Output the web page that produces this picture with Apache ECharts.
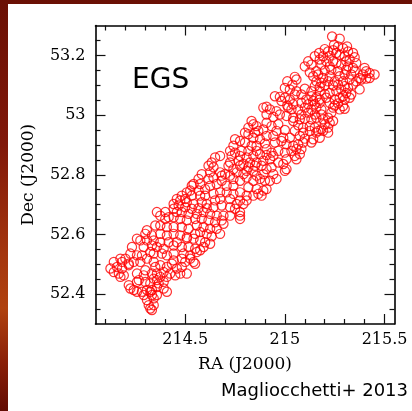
<!DOCTYPE html>
<html>
<head>
<meta charset="utf-8">
<script src="https://cdn.jsdelivr.net/npm/echarts@6/dist/echarts.min.js"></script>
<style>
html,body{margin:0;padding:0;}
#chart{width:412px;height:411px;}
</style>
</head>
<body>
<div id="chart"></div>
<script>
// ---- Tick values ----
const xMajorTicks = [214.5, 215, 215.5];
const xMinorTicks = [214.1, 214.2, 214.3, 214.4, 214.6, 214.7, 214.8, 214.9, 215.1, 215.2, 215.3, 215.4];
const yMajorTicks = [52.4, 52.6, 52.8, 53, 53.2];
const yMinorTicks = [52.35, 52.45, 52.5, 52.55, 52.65, 52.7, 52.75, 52.85, 52.9, 52.95, 53.05, 53.1, 53.15, 53.25];

// ---- Source positions [RA, Dec] ----
const band1 = [
[215.237,53.263],[215.275,53.256],[215.200,53.221],[215.247,53.236],[215.267,53.230],[215.292,53.224],[215.312,53.230],
[215.172,53.208],[215.217,53.213],[215.242,53.217],[215.258,53.208],[215.317,53.213],[215.342,53.208],
[215.150,53.197],[215.192,53.197],[215.225,53.199],[215.275,53.202],[215.300,53.197],[215.350,53.194],
[215.117,53.180],[215.175,53.186],[215.208,53.180],[215.242,53.180],[215.258,53.174],[215.308,53.180],[215.325,53.186],[215.358,53.174],
[215.100,53.163],[215.133,53.169],[215.183,53.169],[215.225,53.163],[215.283,53.169],[215.317,53.163],[215.342,53.158]
];
const band2 = [
[215.125,53.143],[215.158,53.147],[215.200,53.149],[215.233,53.152],[215.267,53.147],[215.308,53.152],[215.350,53.149],
[215.400,53.158],[215.408,53.147],[215.425,53.141],[215.450,53.136],[215.392,53.136],
[215.142,53.130],[215.167,53.136],[215.192,53.124],[215.225,53.130],[215.275,53.130],[215.300,53.136],[215.333,53.136],
[215.375,53.124],[215.408,53.122],[215.425,53.124],
[215.050,53.128],[215.058,53.119],[215.012,53.113],[215.038,53.102],[215.158,53.113],[215.183,53.108],[215.217,53.113],
[215.250,53.113],[215.292,53.113],[215.325,53.119],[215.358,53.113],[215.383,53.119],
[215.150,53.097],[215.175,53.094],[215.200,53.099],[215.242,53.099],[215.267,53.102],[215.300,53.097],[215.342,53.102],
[215.375,53.086],[215.317,53.091]
];
const band3 = [
[215.000,53.091],[215.025,53.086],[215.058,53.080],[215.100,53.088],[215.050,53.069],[215.083,53.069],
[215.133,53.080],[215.175,53.080],[215.200,53.071],[215.225,53.074],[215.258,53.080],[215.283,53.086],[215.308,53.074],
[215.333,53.069],[215.292,53.063],[215.325,53.058],
[214.950,53.063],[214.975,53.061],[215.000,53.058],[215.025,53.052],[214.983,53.047],[215.133,53.063],[215.158,53.060],
[215.108,53.052],[215.142,53.047],[215.175,53.052],[215.208,53.058],[215.250,53.052],[215.275,53.058],[215.300,53.052],
[215.083,53.041],[215.117,53.036],[215.150,53.036],[215.175,53.041],[215.225,53.041],[215.267,53.039],[215.292,53.030],
[215.250,53.032],[215.012,53.032],[215.042,53.036],[214.908,53.028],[214.892,53.025]
];
const band4 = [
[214.925,53.019],[214.958,53.013],[214.908,53.002],[214.942,52.994],[214.975,53.002],[215.017,53.025],[215.033,53.019],
[215.067,53.019],[215.100,53.025],[215.133,53.019],[215.158,53.025],[215.183,53.019],[215.242,53.025],[215.275,53.019],
[215.300,53.021],[215.008,52.997],[215.042,52.991],[215.083,53.002],[215.117,53.008],[215.150,53.002],[215.183,53.002],
[215.233,53.008],[215.217,52.991],[214.833,52.980],[214.842,52.969],[214.858,52.963],[214.908,52.974],[214.933,52.963],
[214.967,52.969],[215.042,52.980],[215.075,52.986],[215.100,52.988],[215.133,52.986],[215.158,52.991],[215.192,52.986],
[215.200,52.969],[215.225,52.974],[215.242,52.980],[214.817,52.958],[215.067,52.966],[215.092,52.958],[215.125,52.963],
[215.150,52.958],[215.183,52.952],[215.217,52.958],[215.167,52.947]
];
const band5 = [
[214.800,52.941],[214.817,52.936],[214.850,52.941],[214.867,52.947],[214.892,52.952],[214.958,52.947],[215.000,52.950],
[215.050,52.947],[215.092,52.941],[215.125,52.947],[215.158,52.941],[215.192,52.947],[215.217,52.941],
[214.842,52.924],[214.875,52.919],[214.908,52.930],[214.942,52.930],[214.992,52.924],[215.025,52.924],[215.075,52.930],
[215.100,52.921],[215.142,52.919],[215.175,52.924],
[214.750,52.919],[214.775,52.913],[214.800,52.908],[214.833,52.897],[214.858,52.897],[214.900,52.905],[214.950,52.908],
[214.983,52.913],[215.008,52.902],[215.042,52.897],[215.067,52.902],[215.092,52.908],[215.133,52.908]
];
const band6 = [
[214.742,52.897],[214.725,52.880],[214.750,52.874],[214.783,52.880],[214.817,52.880],[214.858,52.880],[214.908,52.886],
[214.933,52.874],[214.967,52.880],[215.000,52.874],[215.033,52.880],[215.058,52.886],[215.083,52.886],
[214.675,52.863],[214.650,52.858],[214.733,52.863],[214.775,52.863],[214.808,52.858],[214.842,52.863],[214.875,52.869],
[214.908,52.866],[214.942,52.863],[215.008,52.852],[215.050,52.863],[215.075,52.869],[215.058,52.852],
[214.633,52.841],[214.617,52.830],[214.725,52.841],[214.767,52.847],[214.792,52.836],[214.825,52.841],[214.858,52.841],
[214.892,52.847],[214.925,52.852],[214.967,52.841],[214.992,52.836]
];
const band7 = [
[214.642,52.825],[214.625,52.808],[214.717,52.830],[214.742,52.819],[214.775,52.830],[214.817,52.825],[214.850,52.830],
[214.883,52.830],[214.808,52.813],[214.842,52.813],[214.908,52.819],[214.933,52.825],[215.008,52.819],[215.000,52.813],
[214.675,52.808],[214.700,52.802],[214.683,52.797],[214.725,52.797],[214.758,52.808],[214.792,52.802],[214.858,52.797],
[214.892,52.802],[214.942,52.802],[214.958,52.786],[214.900,52.780],[214.925,52.780],
[214.583,52.802],[214.567,52.786],[214.617,52.786],[214.575,52.769],[214.542,52.769],[214.533,52.763],[214.642,52.791],
[214.683,52.780],[214.742,52.786],[214.775,52.780],[214.808,52.791],[214.842,52.780],[214.875,52.786]
];
const band8 = [
[214.525,52.747],[214.508,52.741],[214.567,52.747],[214.600,52.752],[214.625,52.763],[214.658,52.769],[214.708,52.763],
[214.742,52.763],[214.817,52.758],[214.858,52.752],[214.892,52.747],[214.908,52.752],[214.867,52.736],[214.883,52.730],
[214.483,52.730],[214.500,52.719],[214.475,52.714],[214.458,52.719],[214.442,52.702],[214.533,52.730],[214.575,52.730],
[214.600,52.730],[214.642,52.736],[214.675,52.741],[214.708,52.741],[214.742,52.736],[214.775,52.741],[214.808,52.730],
[214.842,52.730],[214.442,52.686],[214.467,52.697],[214.508,52.708],[214.542,52.702],[214.583,52.708],[214.608,52.702],
[214.650,52.714],[214.675,52.719],[214.725,52.719],[214.775,52.714],[214.808,52.714],[214.758,52.702],[214.792,52.702]
];
const band9 = [
[214.500,52.691],[214.533,52.686],[214.567,52.688],[214.608,52.688],[214.642,52.691],[214.683,52.697],[214.725,52.691],
[214.750,52.686],[214.775,52.675],[214.775,52.663],[214.775,52.652],
[214.458,52.675],[214.483,52.675],[214.517,52.669],[214.558,52.669],[214.592,52.675],[214.625,52.669],[214.658,52.663],
[214.692,52.663],[214.725,52.663],[214.683,52.647],[214.692,52.636],
[214.358,52.675],[214.400,52.675],[214.375,52.663],[214.400,52.652],[214.417,52.658],[214.442,52.658],[214.475,52.652],
[214.508,52.647],[214.550,52.652],[214.583,52.652],[214.617,52.647],[214.650,52.641]
];
const band10 = [
[214.350,52.630],[214.375,52.630],[214.408,52.625],[214.442,52.625],[214.483,52.625],[214.517,52.619],[214.558,52.630],
[214.592,52.625],[214.625,52.619],[214.658,52.619],
[214.308,52.614],[214.300,52.602],[214.333,52.597],[214.375,52.602],[214.408,52.597],[214.442,52.602],[214.475,52.597],
[214.508,52.591],[214.550,52.602],[214.575,52.608],[214.608,52.602],[214.633,52.594],[214.675,52.602],
[214.258,52.586],[214.275,52.580],[214.308,52.580],[214.342,52.580],[214.375,52.574],[214.417,52.574],[214.458,52.574],
[214.508,52.586],[214.542,52.586],[214.575,52.580],[214.600,52.574],[214.625,52.569]
];
const band11 = [
[214.233,52.558],[214.292,52.558],[214.333,52.563],[214.358,52.558],[214.392,52.552],[214.442,52.563],[214.483,52.558],
[214.517,52.558],[214.550,52.552],[214.575,52.547],[214.592,52.558],
[214.258,52.530],[214.225,52.536],[214.283,52.530],[214.325,52.541],[214.342,52.536],[214.383,52.536],[214.408,52.530],
[214.442,52.536],[214.492,52.536],[214.525,52.530],[214.558,52.541],
[214.175,52.519],[214.200,52.519],[214.142,52.508],[214.183,52.508],[214.217,52.502],[214.242,52.508],[214.275,52.508],
[214.308,52.519],[214.342,52.508],[214.442,52.513],[214.483,52.519],[214.500,52.508],[214.525,52.519],[214.542,52.508],
[214.550,52.502]
];
const band12 = [
[214.125,52.486],[214.158,52.491],[214.183,52.486],[214.217,52.497],[214.142,52.474],[214.167,52.469],[214.192,52.463],
[214.175,52.458],[214.350,52.491],[214.375,52.497],[214.408,52.491],[214.433,52.502],[214.458,52.486],[214.483,52.491],
[214.508,52.469],[214.475,52.469],[214.258,52.469],[214.300,52.480],[214.292,52.463],[214.333,52.469],[214.358,52.469],
[214.392,52.474],[214.425,52.469],[214.450,52.463],[214.375,52.458],[214.408,52.458],[214.342,52.452],[214.358,52.447],
[214.325,52.436],[214.367,52.436],[214.392,52.441],[214.258,52.441],[214.300,52.441],[214.267,52.447]
];
const band13 = [
[214.217,52.430],[214.225,52.419],[214.242,52.414],[214.258,52.408],[214.283,52.408],[214.308,52.414],[214.333,52.414],
[214.358,52.424],[214.408,52.408],[214.392,52.419],[214.292,52.397],[214.325,52.408],[214.333,52.397],[214.358,52.397],
[214.308,52.380],[214.342,52.386],[214.317,52.363],[214.342,52.363],[214.325,52.352],[214.333,52.347]
];
const sources = [].concat(band1, band2, band3, band4, band5, band6, band7, band8, band9, band10, band11, band12, band13);

const labelTitle = 'EGS';
const credit = 'Magliocchetti+ 2013';
const xName = 'RA (J2000)';
const yName = 'Dec (J2000)';

const chart = echarts.init(document.getElementById('chart'), null, {renderer: 'canvas'});
const serif = 'DejaVu Serif';
const lineStyle = {color: '#000', width: 1.6};
const tickStyle = {color: '#111', width: 1.2};
const xRange = {min: 214.05, max: 215.55};
const yRange = {min: 52.3, max: 53.3};

function xAx(pos, major, showLine, showLabel) {
  return Object.assign({
    type: 'value', position: pos, gridIndex: 0, scale: true,
    axisLine: {show: showLine, onZero: false, lineStyle: lineStyle},
    axisTick: {show: true, inside: true, length: major ? 10 : 5, lineStyle: tickStyle,
               customValues: major ? xMajorTicks : xMinorTicks},
    axisLabel: {show: showLabel, customValues: xMajorTicks, color: '#000', fontFamily: serif, fontSize: 16, margin: 8},
    splitLine: {show: false}
  }, xRange);
}
function yAx(pos, major, showLine, showLabel) {
  return Object.assign({
    type: 'value', position: pos, gridIndex: 0, scale: true,
    axisLine: {show: showLine, onZero: false, lineStyle: lineStyle},
    axisTick: {show: true, inside: true, length: major ? 10 : 5, lineStyle: tickStyle,
               customValues: major ? yMajorTicks : yMinorTicks},
    axisLabel: {show: showLabel, customValues: yMajorTicks, color: '#000', fontFamily: serif, fontSize: 16, margin: 10},
    splitLine: {show: false}
  }, yRange);
}

const xAxes = [
  Object.assign(xAx('bottom', true, true, true), {name: xName, nameLocation: 'middle', nameGap: 32,
    nameTextStyle: {color: '#000', fontFamily: serif, fontSize: 17}}),
  xAx('bottom', false, false, false),
  xAx('top', true, true, false),
  xAx('top', false, false, false)
];
const yAxes = [
  Object.assign(yAx('left', true, true, true), {name: yName, nameLocation: 'middle', nameGap: 58, nameRotate: 90,
    nameTextStyle: {color: '#000', fontFamily: serif, fontSize: 17}}),
  yAx('left', false, false, false),
  yAx('right', true, true, false),
  yAx('right', false, false, false)
];

chart.setOption({
  animation: false,
  backgroundColor: {
    type: 'linear', x: 0, y: 0, x2: 0, y2: 1,
    colorStops: [
      {offset: 0, color: '#6a1004'}, {offset: 0.35, color: '#80180a'},
      {offset: 0.62, color: '#a4360e'}, {offset: 0.75, color: '#b0420f'},
      {offset: 0.88, color: '#8a2008'}, {offset: 1, color: '#620c03'}
    ]
  },
  graphic: [
    {type: 'rect', z: -10, shape: {x: 8, y: 4, width: 404, height: 407}, style: {fill: '#fff'}, silent: true},
    {type: 'text', x: 132, y: 81, style: {text: labelTitle, fontFamily: 'DejaVu Sans', fontSize: 28, fill: '#000',
      textVerticalAlign: 'middle', verticalAlign: 'middle'}},
    {type: 'text', x: 408, y: 391, style: {text: credit, fontFamily: 'DejaVu Sans', fontSize: 18, fill: '#000',
      align: 'right', textAlign: 'right', verticalAlign: 'middle', textVerticalAlign: 'middle'}}
  ],
  grid: {left: 95.5, top: 25.5, width: 299, height: 298.5, containLabel: false},
  xAxis: xAxes,
  yAxis: yAxes,
  series: [{
    type: 'scatter',
    xAxisIndex: 0, yAxisIndex: 0,
    data: sources,
    symbol: 'circle',
    symbolSize: 9.2,
    itemStyle: {color: 'rgba(0,0,0,0)', borderColor: '#ff0000', borderWidth: 1.2},
    silent: true
  }]
});
</script>
</body>
</html>
